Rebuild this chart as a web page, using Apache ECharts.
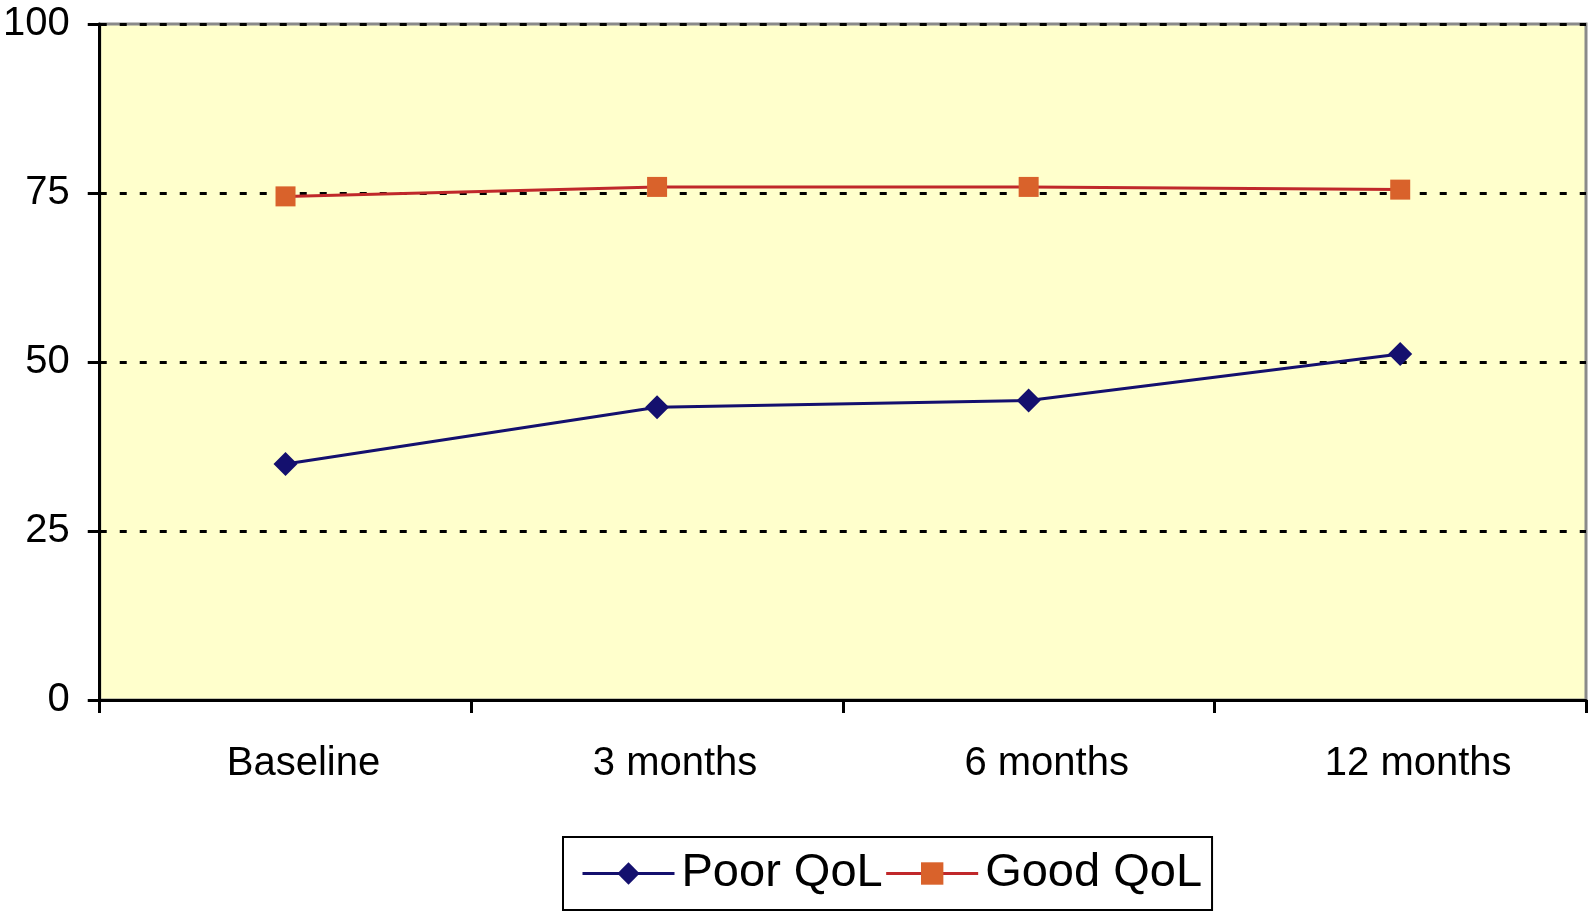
<!DOCTYPE html>
<html>
<head>
<meta charset="utf-8">
<script src="https://cdn.jsdelivr.net/npm/echarts@6/dist/echarts.min.js"></script>
<style>
html,body{margin:0;padding:0;background:#fff;}
#main{width:1589px;height:914px;}
</style>
</head>
<body>
<div id="main"></div>
<script>
const categories = ['Baseline', '3 months', '6 months', '12 months'];
const poorQoL = [34.9, 43.3, 44.3, 51.2];
const goodQoL = [74.5, 75.9, 75.9, 75.5];
const seriesNames = ['Poor QoL', 'Good QoL'];

const chart = echarts.init(document.getElementById('main'));
const font = 'Liberation Sans, Arial, sans-serif';
chart.setOption({
  animation: false,
  backgroundColor: '#ffffff',
  grid: {
    left: 97, right: 3, top: 24, bottom: 214,
    show: true, backgroundColor: '#FFFFCC', borderColor: '#8a8a8a', borderWidth: 3
  },
  legend: {
    data: seriesNames,
    left: 563, top: 837,
    padding: [13, 10, 13, 18],
    borderColor: '#000', borderWidth: 2, backgroundColor: '#fff',
    itemWidth: 92, itemHeight: 28, itemGap: 2,
    lineStyle: { width: 3 },
    textStyle: { fontFamily: font, fontSize: 47, color: '#000', padding: [0, 0, 0, 2] }
  },
  xAxis: {
    type: 'category',
    data: categories,
    boundaryGap: true,
    axisLine: { lineStyle: { color: '#000', width: 3 } },
    axisTick: { show: true, length: 13, lineStyle: { color: '#000', width: 3 } },
    axisLabel: { fontFamily: font, fontSize: 40, color: '#000', margin: 44, padding: [0, 0, 0, 36] },
    splitLine: { show: false }
  },
  yAxis: {
    type: 'value',
    min: 0, max: 100, interval: 25,
    axisLine: { show: true, lineStyle: { color: '#000', width: 3 } },
    axisTick: { show: true, length: 12, lineStyle: { color: '#000', width: 3 } },
    axisLabel: { fontFamily: font, fontSize: 40, color: '#000', margin: 30 },
    splitLine: { show: true, lineStyle: { color: '#000', width: 3, type: [7, 13] } }
  },
  series: [
    {
      name: seriesNames[0], type: 'line', data: poorQoL,
      symbol: 'diamond', symbolSize: 24,
      lineStyle: { color: '#14106e', width: 3 },
      itemStyle: { color: '#14106e' }
    },
    {
      name: seriesNames[1], type: 'line', data: goodQoL,
      symbol: 'rect', symbolSize: 20,
      lineStyle: { color: '#c0282a', width: 3 },
      itemStyle: { color: '#d9622b' }
    }
  ]
});
</script>
</body>
</html>
